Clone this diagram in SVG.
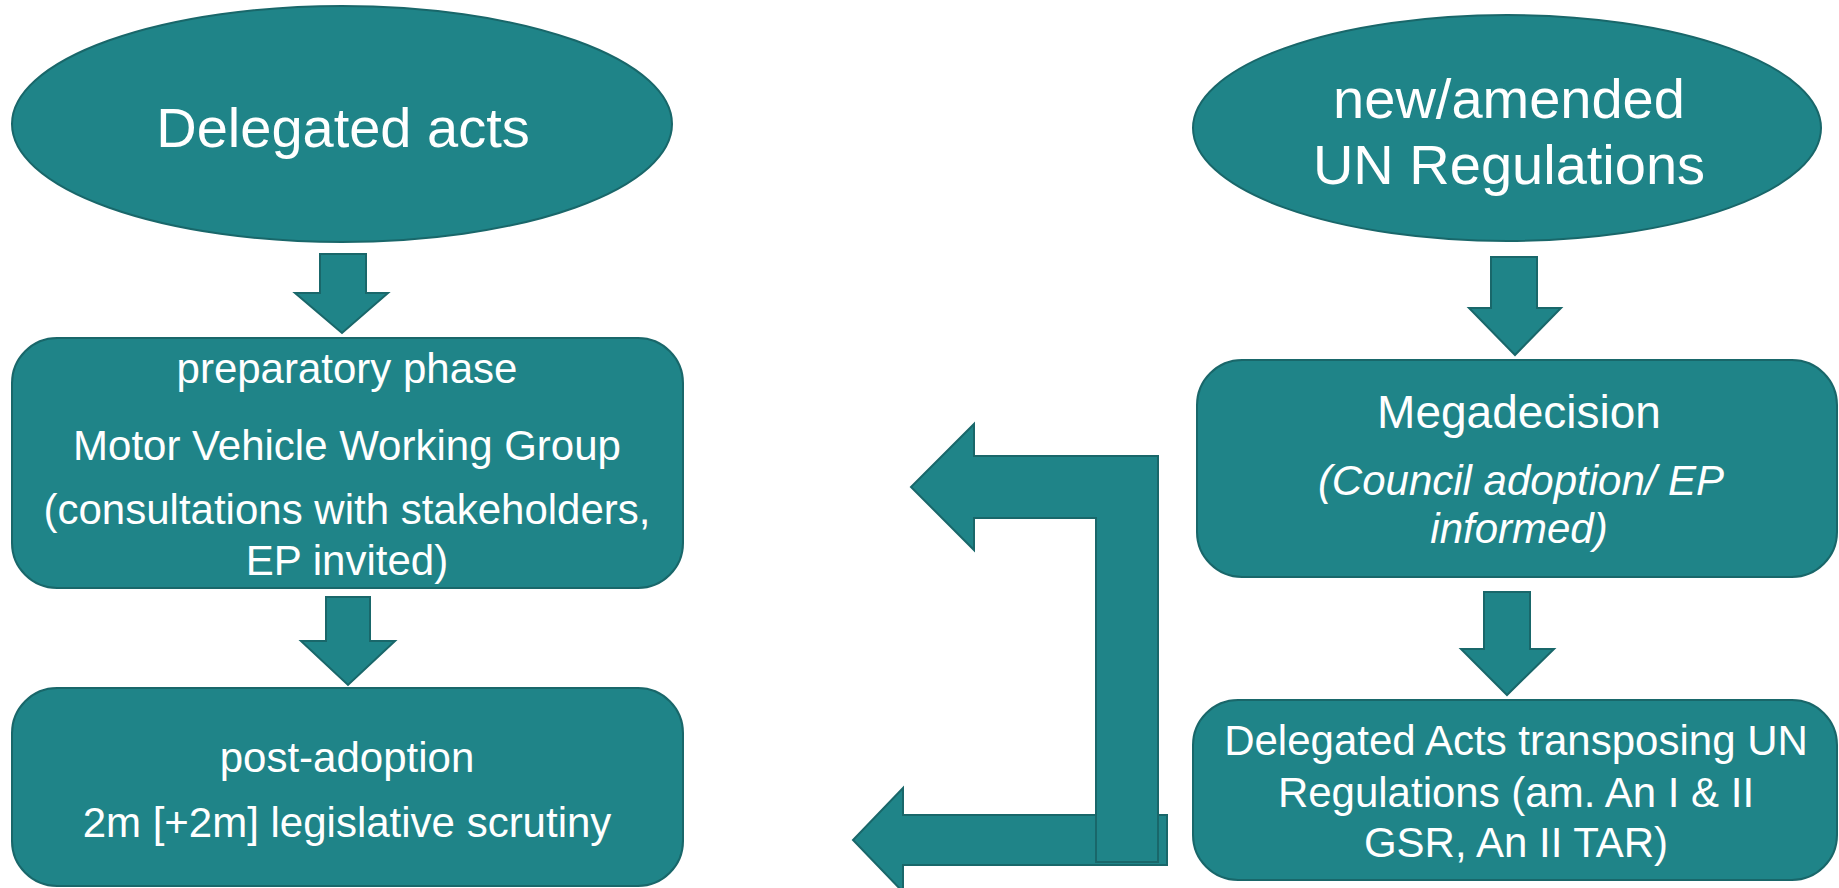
<svg xmlns="http://www.w3.org/2000/svg" width="1839" height="888" viewBox="0 0 1839 888">
<style>
.shape{fill:#1f8488;stroke:#19676a;stroke-width:2}
.t{fill:#ffffff;font-family:"Liberation Sans",Arial,sans-serif;text-anchor:middle}
.f42{font-size:42px}
.f56{font-size:56px}
.f46{font-size:46px}
.it{font-style:italic}
</style>
<rect width="1839" height="888" fill="#ffffff"/>
<g id="connectors">
<path class="shape" d="M320,254 H366 V293 H388 L342,333 L295,293 H320 Z"/>
<path class="shape" d="M326,597 H370 V641 H395 L348,685 L301,641 H326 Z"/>
<path class="shape" d="M1491,257 H1537 V308 H1561 L1515,355 L1469,308 H1491 Z"/>
<path class="shape" d="M1484,592 H1530 V649 H1554 L1507,695 L1461,649 H1484 Z"/>
<path class="shape" d="M1167,815 V865 H903 V892 L853,840 L903,788 V815 Z"/>
<path class="shape" d="M1158,862 V456 H974 V424 L911,487 L974,550 V518 H1096 V862 Z"/>
</g>
<g id="delegated-acts">
<ellipse class="shape" cx="342" cy="124" rx="330" ry="118"/>
<text class="t f56" x="343" y="147">Delegated acts</text>
</g>
<g id="un-regulations">
<ellipse class="shape" cx="1507" cy="128" rx="314" ry="113"/>
<text class="t f56" x="1509" y="118">new/amended</text>
<text class="t f56" x="1509" y="184">UN Regulations</text>
</g>
<g id="preparatory-phase">
<rect class="shape" x="12" y="338" width="671" height="250" rx="45" ry="45"/>
<text class="t f42" x="347" y="383">preparatory phase</text>
<text class="t f42" x="347" y="460">Motor Vehicle Working Group</text>
<text class="t f42" x="347" y="524">(consultations with stakeholders,</text>
<text class="t f42" x="347" y="575">EP invited)</text>
</g>
<g id="post-adoption">
<rect class="shape" x="12" y="688" width="671" height="198" rx="45" ry="45"/>
<text class="t f42" x="347" y="772">post-adoption</text>
<text class="t f42" x="347" y="837">2m [+2m] legislative scrutiny</text>
</g>
<g id="megadecision">
<rect class="shape" x="1197" y="360" width="640" height="217" rx="45" ry="45"/>
<text class="t f46" x="1519" y="428">Megadecision</text>
<text class="t f42 it" x="1521" y="495">(Council adoption/ EP</text>
<text class="t f42 it" x="1519" y="543">informed)</text>
</g>
<g id="delegated-acts-transposing">
<rect class="shape" x="1193" y="700" width="644" height="180" rx="45" ry="45"/>
<text class="t f42" x="1516" y="755">Delegated Acts transposing UN</text>
<text class="t f42" x="1516" y="807">Regulations (am. An I &amp; II</text>
<text class="t f42" x="1516" y="857">GSR, An II TAR)</text>
</g>
</svg>
